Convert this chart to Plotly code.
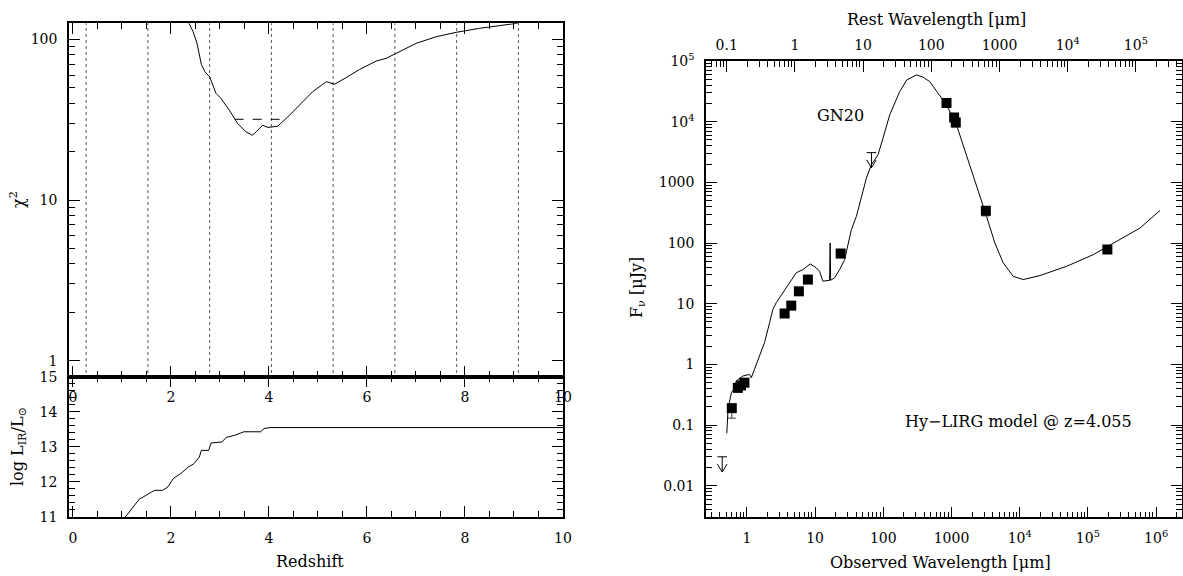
import math
import plotly.graph_objects as go

W, H = 1183, 576
FONT = "DejaVu Serif"

# ---------------- data: left panels ----------------
chi_z = [2.20, 2.357, 2.45, 2.53, 2.58, 2.62, 2.69, 2.79, 2.92, 3.02, 3.19, 3.36, 3.53, 3.66,
         3.74, 3.87, 3.98, 4.18, 4.42, 4.66, 4.89, 5.17, 5.34, 5.58, 5.85, 6.19, 6.39, 6.60,
         7.00, 7.41, 7.82, 8.30, 8.98, 9.07, 9.5]
chi_val = [160, 125.9, 112, 95, 82, 70, 63, 58.5, 46.1, 42.9, 36.3, 30.0, 26.6, 25.3,
           26.6, 29.2, 28.3, 28.8, 33.7, 39.9, 47.2, 54.5, 52.6, 57.9, 65.0, 73.3, 76.2, 81.9,
           94.4, 103.8, 110.6, 117.2, 124.5, 126, 140]
dash_z = [3.30, 4.32]
dash_chi = [31.8, 31.8]
dotted_z = [0.27, 1.53, 2.79, 4.05, 5.31, 6.57, 7.83, 9.09]

lir_z = [0.9, 1.07, 1.36, 1.41, 1.60, 1.67, 1.83, 1.94, 2.05, 2.20, 2.36, 2.47, 2.58, 2.62,
         2.77, 2.82, 3.04, 3.13, 3.30, 3.49, 3.83, 3.90, 4.02, 10.0]
lir_val = [10.8, 11.0, 11.52, 11.55, 11.71, 11.76, 11.76, 11.86, 12.10, 12.24, 12.43, 12.52,
           12.71, 12.90, 12.90, 13.11, 13.14, 13.27, 13.33, 13.43, 13.43, 13.52, 13.55, 13.55]

# ---------------- data: SED ----------------
z_best = 4.055
model_wave = [0.507, 0.528, 0.592, 0.643, 0.697, 0.871, 1.09, 1.16, 1.29, 1.53, 1.81, 2.15, 2.40,
              2.69, 3.37, 4.22, 5.30, 6.62, 8.51, 10.4, 11.6, 13.0, 16.3, 16.6, 16.9, 19.3, 22.9,
              27.1, 30.3, 34.0, 40.3, 45.0, 56.5, 66.8, 83.6, 99.0, 124, 174, 221, 306, 379, 480,
              673, 845, 1184, 1660, 2075, 2604, 3266, 4325, 5730, 8030, 11250, 19800, 48900,
              120000, 296000, 582000, 1143000]
model_flux = [0.0733, 0.182, 0.342, 0.388, 0.531, 0.643, 0.685, 0.604, 0.828, 1.37, 2.28, 4.85,
              8.04, 10.4, 15.1, 22.1, 32.4, 36.4, 45.3, 38.9, 34.3, 23.5, 24.3, 100, 24.3, 26.7,
              36.6, 53.3, 88.3, 166, 275, 457, 1175, 1950, 2840, 5360, 12900, 31300, 48800,
              58900, 54600, 45700, 27500, 18900, 8850, 2840, 1333, 586, 275, 100, 47.1, 28.3,
              25.0, 29.1, 41.4, 64.4, 114, 177, 345]

obs_wave = [0.60, 0.735, 0.82, 0.92, 3.57, 4.47, 5.78, 7.84, 23.7, 845, 1092, 1156, 3190, 193000]
obs_flux = [0.19, 0.41, 0.45, 0.50, 6.9, 9.3, 16.0, 25.0, 67, 20400, 11700, 9700, 340, 78]
obs_err_up = [0.03, 0.04, 0.04, 0.05, 0.7, 0.9, 1.5, 2.5, 6, 2000, 1500, 1500, 60, 8]
obs_err_dn = [0.06, 0.04, 0.04, 0.05, 0.7, 0.9, 1.5, 2.5, 6, 2000, 1500, 1500, 60, 8]

ul_wave = [0.434, 67.0]
ul_flux = [0.030, 3090]

bottom_ticks = [1, 10, 100, 1000, 1e4, 1e5, 1e6]
bottom_text = ["1", "10", "100", "1000", "10<sup>4</sup>", "10<sup>5</sup>", "10<sup>6</sup>"]
top_ticks = [0.1, 1, 10, 100, 1000, 1e4, 1e5]
top_text = ["0.1", "1", "10", "100", "1000", "10<sup>4</sup>", "10<sup>5</sup>"]
fy_ticks = [0.01, 0.1, 1, 10, 100, 1000, 1e4, 1e5]
fy_text = ["0.01", "0.1", "1", "10", "100", "1000", "10<sup>4</sup>", "10<sup>5</sup>"]

# ---------------- helpers ----------------
def px(x):
    return x / W

def py(y):
    return 1 - y / H

def log_minor(lo, hi):
    vals = []
    for e in range(lo, hi + 1):
        for k in range(2, 10):
            vals.append(k * 10 ** e)
    return vals

tickfont = dict(family=FONT, size=14, color="black")

def axis(**kw):
    base = dict(showline=True, linecolor="black", linewidth=1.5, mirror="ticks",
                ticks="inside", tickcolor="black", ticklen=11, tickwidth=1,
                showgrid=False, zeroline=False, tickfont=tickfont, ticklabelstandoff=7,
                automargin=False)
    base.update(kw)
    return base

fig = go.Figure()

# dotted verticals (top-left)
dx, dy = [], []
for z in dotted_z:
    dx += [z, z, None]
    dy += [0.5, 300, None]
fig.add_trace(go.Scatter(x=dx, y=dy, mode="lines", line=dict(color="#555", width=1, dash="dot"),
                         xaxis="x", yaxis="y", showlegend=False, hoverinfo="skip"))
fig.add_trace(go.Scatter(x=chi_z, y=chi_val, mode="lines", line=dict(color="black", width=1),
                         xaxis="x", yaxis="y", showlegend=False))
fig.add_trace(go.Scatter(x=dash_z, y=dash_chi, mode="lines", line=dict(color="black", width=1, dash="dash"),
                         xaxis="x", yaxis="y", showlegend=False))

# L_IR (bottom-left)
fig.add_trace(go.Scatter(x=lir_z, y=lir_val, mode="lines", line=dict(color="black", width=1),
                         xaxis="x2", yaxis="y2", showlegend=False))

# SED model
fig.add_trace(go.Scatter(x=model_wave, y=model_flux, mode="lines", line=dict(color="black", width=1),
                         xaxis="x3", yaxis="y3", showlegend=False))
# same model in the rest frame, invisible, so that the top (rest wavelength) axis is drawn
fig.add_trace(go.Scatter(x=[w / (1 + z_best) for w in model_wave], y=model_flux, mode="lines",
                         line=dict(color="rgba(0,0,0,0)", width=0), xaxis="x4", yaxis="y3",
                         showlegend=False, hoverinfo="skip"))
# photometry
fig.add_trace(go.Scatter(x=obs_wave, y=obs_flux, mode="markers",
                         marker=dict(symbol="square", size=10, color="black"),
                         error_y=dict(type="data", array=obs_err_up, arrayminus=obs_err_dn,
                                      color="#333", thickness=1, width=4),
                         error_x=dict(type="percent", value=6, color="#555", thickness=1, width=0),
                         xaxis="x3", yaxis="y3", showlegend=False))
# upper limits: cap, shaft and arrowhead derived from the limit value
ax_, ay_ = [], []
for w, f in zip(ul_wave, ul_flux):
    tip = f / 10 ** 0.25
    wl, wr = w / 10 ** 0.07, w * 10 ** 0.07
    ax_ += [wl, wr, None, w, w, None, wl, w, wr, None]
    ay_ += [f, f, None, f, tip, None, tip * 10 ** 0.13, tip, tip * 10 ** 0.13, None]
fig.add_trace(go.Scatter(x=ax_, y=ay_, mode="lines", line=dict(color="black", width=1),
                         xaxis="x3", yaxis="y3", showlegend=False))

# ---------------- layout ----------------
L0, L1 = px(69), px(563)
R0, R1 = px(706), px(1182)
top_dom = [py(376.7), py(23.3)]
bot_dom = [py(517), py(376.7)]
sed_dom = [py(517.3), py(61)]

shift = math.log10(1 + z_best)
xr = [-0.6, 6.38]

fig.update_layout(
    width=W, height=H, margin=dict(l=0, r=0, t=0, b=0, autoexpand=False),
    paper_bgcolor="white", plot_bgcolor="white",
    font=dict(family=FONT, size=14, color="black"),
    xaxis=axis(domain=[L0, L1], anchor="y", range=[-0.08, 10], tickmode="array",
               tickvals=[0, 2, 4, 6, 8, 10],
               minor=dict(dtick=0.5, tick0=0, ticks="inside", ticklen=6, tickcolor="black")),
    yaxis=axis(domain=top_dom, anchor="x", type="log", range=[-0.1, 2.1], tickmode="array",
               tickvals=[1, 10, 100], ticktext=["1", "10", "100"],
               minor=dict(tickvals=log_minor(0, 2), ticks="inside", ticklen=6, tickcolor="black")),
    xaxis2=axis(domain=[L0, L1], anchor="y2", range=[-0.08, 10], tickmode="array",
                tickvals=[0, 2, 4, 6, 8, 10],
                minor=dict(dtick=0.5, tick0=0, ticks="inside", ticklen=6, tickcolor="black")),
    yaxis2=axis(domain=bot_dom, anchor="x2", range=[11, 15], tickmode="array",
                tickvals=[11, 12, 13, 14, 15],
                minor=dict(dtick=0.2, tick0=11, ticks="inside", ticklen=6, tickcolor="black")),
    xaxis3=axis(domain=[R0, R1], anchor="y3", type="log", range=xr, mirror=True, tickmode="array",
                tickvals=bottom_ticks, ticktext=bottom_text,
                minor=dict(tickvals=log_minor(-1, 6), ticks="inside", ticklen=6, tickcolor="black")),
    xaxis4=axis(overlaying="x3", anchor="y3", side="top", type="log",
                range=[xr[0] - shift, xr[1] - shift], showline=False, mirror=False,
                tickmode="array", tickvals=top_ticks, ticktext=top_text,
                minor=dict(tickvals=log_minor(-2, 5), ticks="inside", ticklen=6, tickcolor="black")),
    yaxis3=axis(domain=sed_dom, anchor="x3", type="log", range=[-2.52, 5], tickmode="array",
                tickvals=fy_ticks, ticktext=fy_text,
                minor=dict(tickvals=log_minor(-3, 5), ticks="inside", ticklen=6, tickcolor="black")),
)

tfont = dict(family=FONT, size=16, color="black")
ann = [
    dict(text="χ<sup>2</sup>", x=px(17), y=py(200), textangle=-90),
    dict(text="log L<sub>IR</sub>/L<sub>⊙</sub>", x=px(18), y=py(447), textangle=-90),
    dict(text="Redshift", x=px(310), y=py(561)),
    dict(text="F<sub>ν</sub> [μJy]", x=px(637), y=py(288), textangle=-90),
    dict(text="Observed Wavelength [μm]", x=px(940), y=py(562)),
    dict(text="Rest Wavelength [μm]", x=px(936), y=py(20)),
    dict(text="GN20", x=px(840), y=py(115)),
    dict(text="Hy−LIRG model @ z=4.055", x=px(1018), y=py(421)),
]
for a in ann:
    fig.add_annotation(xref="paper", yref="paper", showarrow=False, font=tfont,
                       xanchor="center", yanchor="middle", **a)

# remove the default page margin so the figure sits at the window's top-left corner
fig.write_html("out.html", config={"displayModeBar": False},
               post_script="document.body.style.margin='0';document.body.style.overflow='hidden';")
